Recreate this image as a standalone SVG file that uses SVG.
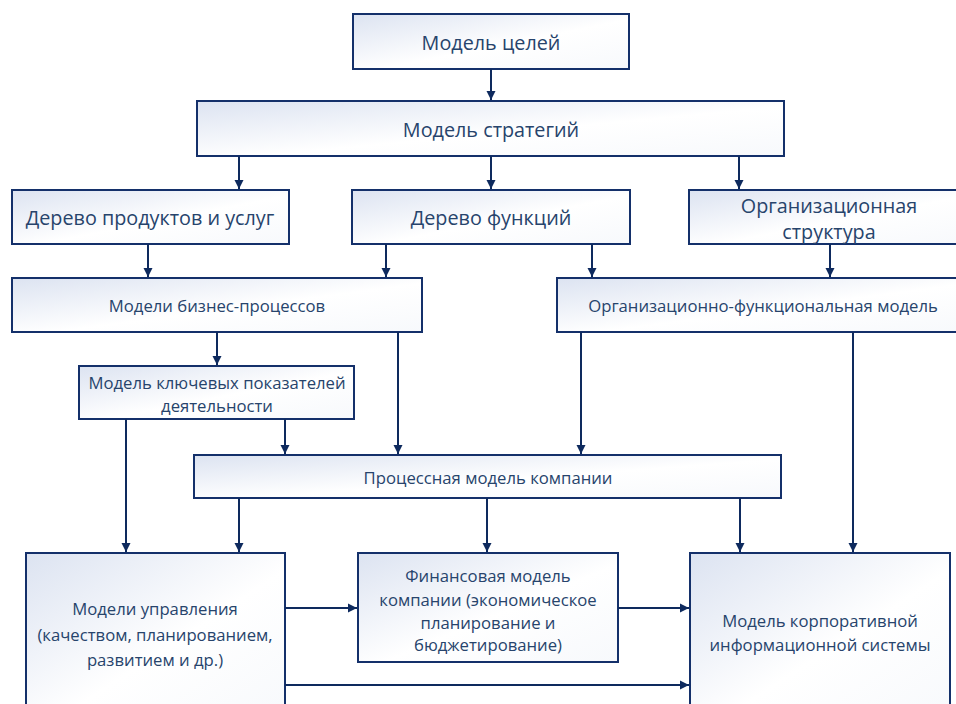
<svg xmlns="http://www.w3.org/2000/svg" width="956" height="704" viewBox="0 0 956 704">
  <defs>
    <linearGradient id="boxFill" x1="0" y1="0" x2="1" y2="1">
      <stop offset="0" stop-color="#DCE3F1"/>
      <stop offset="0.55" stop-color="#FFFFFF"/>
      <stop offset="1" stop-color="#F7F9FC"/>
    </linearGradient>
    <marker id="arrow" markerUnits="userSpaceOnUse" markerWidth="10" markerHeight="10" refX="9" refY="5" orient="auto">
      <path d="M0,0.5 L9,5 L0,9.5 z" fill="#0E2A5E"/>
    </marker>
    <style>
      .box { fill: url(#boxFill); stroke: #14306A; stroke-width: 2; }
      .lbl { font-family: "Open Sans", "Noto Sans", sans-serif; fill: #27446C; text-anchor: middle; dominant-baseline: central; }
      .big { font-size: 19.8px; }
      .mid { font-size: 16.7px; }
      .conn { fill: none; stroke: #0E2A5E; stroke-width: 2; marker-end: url(#arrow); }
    </style>
  </defs>

  <g id="goals">
    <rect class="box" x="353" y="14" width="276" height="55"/>
    <text class="lbl big" x="491" y="42">Модель целей</text>
  </g>

  <g id="strategies">
    <rect class="box" x="197" y="101" width="587" height="55"/>
    <text class="lbl big" x="491" y="129">Модель стратегий</text>
  </g>

  <g id="products">
    <rect class="box" x="12" y="190" width="277" height="54"/>
    <text class="lbl big" x="150" y="217">Дерево продуктов и услуг</text>
  </g>

  <g id="functions">
    <rect class="box" x="352" y="190" width="278" height="54"/>
    <text class="lbl big" x="491" y="217">Дерево функций</text>
  </g>

  <g id="orgstructure">
    <rect class="box" x="689" y="190" width="280" height="54"/>
    <text class="lbl big" x="829" y="205">Организационная</text>
    <text class="lbl big" x="829" y="231">структура</text>
  </g>

  <g id="bizprocesses">
    <rect class="box" x="12" y="278" width="410" height="54"/>
    <text class="lbl mid" x="217" y="305">Модели бизнес-процессов</text>
  </g>

  <g id="orgfunc">
    <rect class="box" x="557" y="278" width="412" height="54"/>
    <text class="lbl mid" x="763" y="305">Организационно-функциональная модель</text>
  </g>

  <g id="kpi">
    <rect class="box" x="79" y="366" width="275" height="53"/>
    <text class="lbl mid" x="217" y="382">Модель ключевых показателей</text>
    <text class="lbl mid" x="217" y="405">деятельности</text>
  </g>

  <g id="processmodel">
    <rect class="box" x="194" y="455" width="587" height="43"/>
    <text class="lbl mid" x="488" y="477">Процессная модель компании</text>
  </g>

  <g id="management">
    <rect class="box" x="26" y="553" width="259" height="170"/>
    <text class="lbl mid" x="155" y="608">Модели управления</text>
    <text class="lbl mid" x="155" y="634">(качеством, планированием,</text>
    <text class="lbl mid" x="155" y="659">развитием и др.)</text>
  </g>

  <g id="finance">
    <rect class="box" x="358" y="553" width="260" height="109"/>
    <text class="lbl mid" x="488" y="575">Финансовая модель</text>
    <text class="lbl mid" x="488" y="599">компании (экономическое</text>
    <text class="lbl mid" x="488" y="622">планирование и</text>
    <text class="lbl mid" x="488" y="644">бюджетирование)</text>
  </g>

  <g id="infosystem">
    <rect class="box" x="690" y="553" width="260" height="170"/>
    <text class="lbl mid" x="820" y="620">Модель корпоративной</text>
    <text class="lbl mid" x="820" y="644">информационной системы</text>
  </g>

  <g id="connectors">
    <line class="conn" x1="491" y1="69" x2="491" y2="100"/>
    <line class="conn" x1="239" y1="156" x2="239" y2="189"/>
    <line class="conn" x1="491" y1="156" x2="491" y2="189"/>
    <line class="conn" x1="739" y1="156" x2="739" y2="189"/>
    <line class="conn" x1="148" y1="244" x2="148" y2="277"/>
    <line class="conn" x1="386" y1="244" x2="386" y2="277"/>
    <line class="conn" x1="592" y1="244" x2="592" y2="277"/>
    <line class="conn" x1="830" y1="244" x2="830" y2="277"/>
    <line class="conn" x1="217" y1="332" x2="217" y2="365"/>
    <line class="conn" x1="285" y1="419" x2="285" y2="454"/>
    <line class="conn" x1="398" y1="332" x2="398" y2="454"/>
    <line class="conn" x1="581" y1="332" x2="581" y2="454"/>
    <line class="conn" x1="126" y1="419" x2="126" y2="552"/>
    <line class="conn" x1="239" y1="498" x2="239" y2="552"/>
    <line class="conn" x1="487" y1="498" x2="487" y2="552"/>
    <line class="conn" x1="740" y1="498" x2="740" y2="552"/>
    <line class="conn" x1="853" y1="332" x2="853" y2="552"/>
    <line class="conn" x1="285" y1="608" x2="357" y2="608"/>
    <line class="conn" x1="618" y1="608" x2="689" y2="608"/>
    <line class="conn" x1="285" y1="685" x2="689" y2="685"/>
  </g>
</svg>
